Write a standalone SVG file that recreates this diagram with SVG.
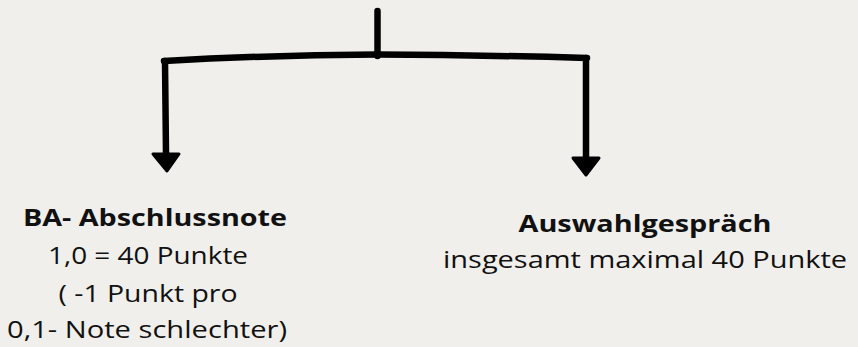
<svg xmlns="http://www.w3.org/2000/svg" width="858" height="347" viewBox="0 0 858 347">
<style>
.ln{fill:none;stroke:#000;stroke-width:6.5;stroke-linecap:round;stroke-linejoin:round}
.hd{fill:#000;stroke:#000;stroke-width:3;stroke-linejoin:round}
.t{font-family:"Open Sans","Lato","Liberation Sans",sans-serif;font-size:24px;fill:#111;text-anchor:middle}
.b{font-weight:bold}
</style>
<rect width="858" height="347" fill="#f0efeb"/>
<g id="connectors">
<path class="ln" d="M377.5,11 L377.5,56"/>
<path class="ln" d="M164,61 Q270,55 377,54.5 Q480,55 587,58"/>
<path class="ln" d="M165,61 L166,154"/>
<path class="hd" d="M153,154 L179,154 L167,171 Z"/>
<path class="ln" d="M586,58 L586,158"/>
<path class="hd" d="M573,158 L599,158 L586,175 Z"/>
</g>
<g id="node-ba">
<text class="t b" x="155" y="226" textLength="264" lengthAdjust="spacingAndGlyphs">BA- Abschlussnote</text>
<text class="t" x="148" y="264" textLength="200" lengthAdjust="spacingAndGlyphs">1,0 = 40 Punkte</text>
<text class="t" x="148" y="302" textLength="179" lengthAdjust="spacingAndGlyphs">( -1 Punkt pro</text>
<text class="t" x="147" y="338" textLength="280" lengthAdjust="spacingAndGlyphs">0,1- Note schlechter)</text>
</g>
<g id="node-auswahl">
<text class="t b" x="645" y="232" textLength="253" lengthAdjust="spacingAndGlyphs">Auswahlgespräch</text>
<text class="t" x="645" y="268" textLength="404" lengthAdjust="spacingAndGlyphs">insgesamt maximal 40 Punkte</text>
</g>
</svg>
